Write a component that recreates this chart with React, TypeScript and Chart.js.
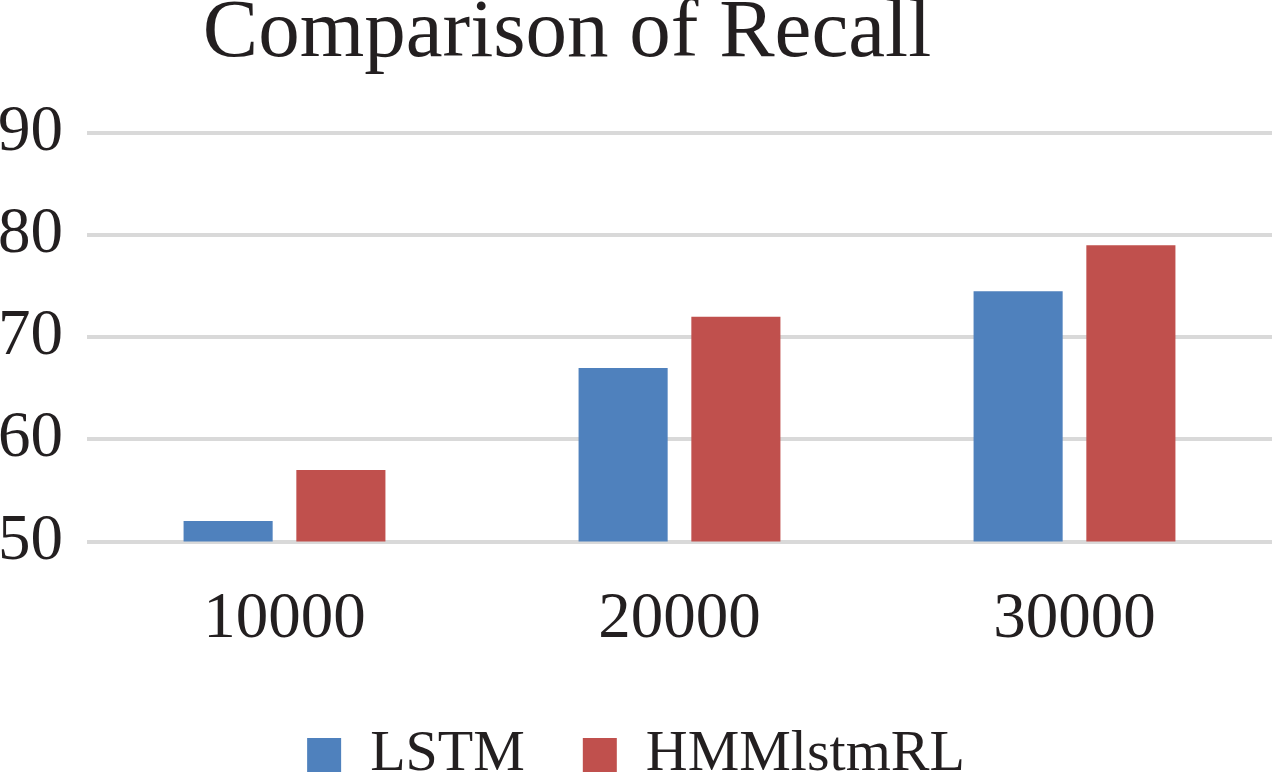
import React, { useEffect, useRef } from "react";
import { Chart, registerables } from "chart.js";

Chart.register(...registerables);

const categories = ["10000", "20000", "30000"];
const lstmValues = [52, 67, 74.5];
const hmmValues = [57, 72, 79];
const seriesNames = ["LSTM", "HMMlstmRL"];
const yTicks = [50, 60, 70, 80, 90];
const titleText = "Comparison of Recall";

const FONT = "'Liberation Serif', 'Times New Roman', serif";
const TEXT = "#231f20";

const titleShift = {
  id: "titleShift",
  afterLayout(chart: any) {
    const tb = chart.titleBlock;
    if (tb) {
      tb.left = 0;
      tb.right = 1134;
    }
  },
};

export default function App() {
  const ref = useRef<HTMLCanvasElement | null>(null);

  useEffect(() => {
    if (!ref.current) return;
    const chart = new Chart(ref.current, {
      type: "bar",
      data: {
        labels: categories,
        datasets: [
          {
            label: seriesNames[0],
            data: lstmValues,
            backgroundColor: "#4F81BD",
            borderWidth: 0,
            barPercentage: 0.79,
            categoryPercentage: 0.571,
          },
          {
            label: seriesNames[1],
            data: hmmValues,
            backgroundColor: "#C0504D",
            borderWidth: 0,
            barPercentage: 0.79,
            categoryPercentage: 0.571,
          },
        ],
      },
      plugins: [titleShift],
      options: {
        animation: false,
        responsive: false,
        maintainAspectRatio: false,
        devicePixelRatio: 1,
        layout: { padding: 0 },
        plugins: {
          title: {
            display: true,
            text: titleText,
            color: TEXT,
            font: { family: FONT, size: 83, weight: "normal", lineHeight: 0.5 },
            padding: { top: 13.8, bottom: 77.7 },
          },
          legend: {
            display: true,
            position: "bottom",
            labels: {
              color: TEXT,
              font: { family: FONT, size: 58 },
              boxWidth: 34,
              boxHeight: 34,
              padding: 58,
            },
          },
          tooltip: { enabled: false },
        },
        scales: {
          x: {
            afterFit(scale: any) {
              scale.height = 126.5;
            },
            grid: { display: false, drawTicks: false },
            border: { display: false },
            ticks: {
              color: TEXT,
              font: { family: FONT, size: 65, lineHeight: 1.477 },
              padding: 30.5,
              maxRotation: 0,
            },
          },
          y: {
            min: yTicks[0],
            max: yTicks[yTicks.length - 1],
            afterFit(scale: any) {
              scale.width = 87;
            },
            afterBuildTicks(scale: any) {
              scale.ticks = yTicks.map((v) => ({ value: v }));
            },
            grid: { color: "#d9d9d9", lineWidth: 4, drawTicks: false },
            border: { display: false },
            ticks: {
              color: TEXT,
              font: { family: FONT, size: 65 },
              padding: 24,
            },
          },
        },
      },
    } as any);
    return () => chart.destroy();
  }, []);

  return (
    <div
      style={{
        position: "fixed",
        left: 0,
        top: 0,
        width: 1272,
        height: 776,
        overflow: "hidden",
        background: "#ffffff",
      }}
    >
      <canvas
        ref={ref}
        width={1272}
        height={794}
        style={{ display: "block", width: 1272, height: 794 }}
      />
    </div>
  );
}
